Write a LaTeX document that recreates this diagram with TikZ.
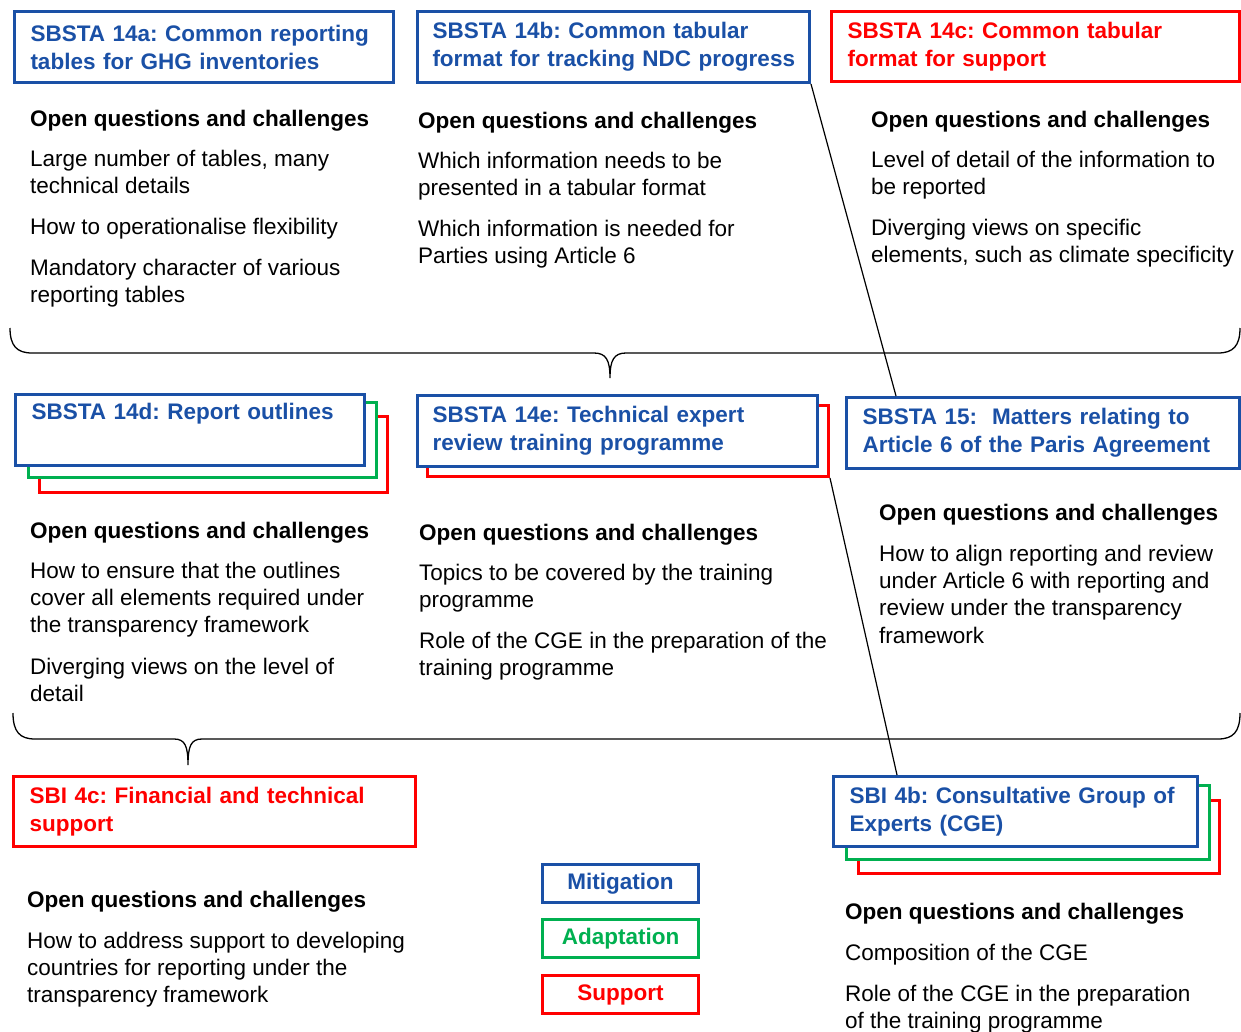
\documentclass[tikz,border=0pt]{standalone}
\usepackage{fontspec}
\setmainfont{Liberation Sans}
\AtBeginDocument{\frenchspacing}
\definecolor{ublue}{HTML}{1A50A6}
\definecolor{ured}{HTML}{FF0000}
\definecolor{ugreen}{HTML}{00B050}
\begin{document}
\begin{tikzpicture}[x=1pt,y=-1pt,
  ubox/.style={draw=#1, line width=3pt, fill=white, inner sep=0pt, anchor=north west},
  ttl/.style={ubox=#1, text=#1, font=\frenchspacing\bfseries\fontsize{22.5}{28}\selectfont, align=left, inner xsep=16pt, inner ysep=0pt},
  body/.style={anchor=north west, inner sep=0pt, align=left, font=\frenchspacing\fontsize{22.5}{27.3}\selectfont},
  head/.style={body, font=\frenchspacing\bfseries\fontsize{22.5}{27.3}\selectfont},
  legend/.style={ubox=#1, text=#1, font=\bfseries\fontsize{22.5}{27}\selectfont, minimum width=156pt, minimum height=38pt},
  brace/.style={draw=black, line width=1.3pt},
  link/.style={draw=black, line width=1.2pt}]
\useasboundingbox (0,0) rectangle (1241,1032);

% ---------- Row 1 ----------
\node[ttl=ublue, minimum width=379pt, minimum height=71pt, text width=347pt] (a14) at (13,10)
  {SBSTA 14a: Common reporting\\tables for GHG inventories};
\node[ttl=ublue, inner xsep=15pt, minimum width=392pt, minimum height=71pt, text width=362pt] (b14) at (416,10)
  {SBSTA 14b: Common tabular\\\mbox{format for tracking NDC progress}};
\node[ttl=ured, minimum width=408pt, minimum height=70pt, text width=376pt] (c14) at (830,10)
  {SBSTA 14c: Common tabular\\format for support};

\node[head] (a14h) at (30,107) {\strut Open questions and challenges};
\node[body] (a14p1) at (30,147) {\strut Large number of tables, many\\technical details};
\node[body] (a14p2) at (30,215) {\strut How to operationalise flexibility};
\node[body] (a14p3) at (30,256) {\strut Mandatory character of various\\reporting tables};

\node[head] (b14h) at (418,109) {\strut Open questions and challenges};
\node[body] (b14p1) at (418,149) {\strut Which information needs to be\\presented in a tabular format};
\node[body] (b14p2) at (418,217) {\strut Which information is needed for\\Parties using Article 6};

\node[head] (c14h) at (871,108) {\strut Open questions and challenges};
\node[body] (c14p1) at (871,148) {\strut Level of detail of the information to\\be reported};
\node[body] (c14p2) at (871,216) {\strut Diverging views on specific\\elements, such as climate specificity};

% brace 1
\draw[brace] (10,328) .. controls (10,346) and (17,353) .. (32,353) -- (594,353)
  .. controls (606,353) and (610,360) .. (610,378)
  .. controls (610,360) and (614,353) .. (626,353) -- (1218,353)
  .. controls (1233,353) and (1240,346) .. (1240,328);

% ---------- Row 2 ----------
\node[ubox=ured, minimum width=348pt, minimum height=76pt] (d14r) at (38,415) {};
\node[ubox=ugreen, minimum width=348pt, minimum height=75pt] (d14g) at (27,401) {};
\node[ttl=ublue, minimum width=349pt, minimum height=71pt, text width=317pt] (d14) at (14,393)
  {SBSTA 14d: Report outlines\\\strut};

\node[ubox=ured, minimum width=401pt, minimum height=71pt] (e14r) at (426,404) {};
\node[ttl=ublue, inner xsep=15pt, minimum width=400pt, minimum height=71pt, text width=370pt] (e14) at (416,394)
  {SBSTA 14e: Technical expert\\review training programme};

\node[ttl=ublue, minimum width=393pt, minimum height=71pt, text width=361pt] (s15) at (845,396)
  {SBSTA 15:~ Matters relating to\\Article 6 of the Paris Agreement};

\node[head] (d14h) at (30,519) {\strut Open questions and challenges};
\node[body] (d14p1) at (30,559) {\strut How to ensure that the outlines\\cover all elements required under\\the transparency framework};
\node[body] (d14p2) at (30,655) {\strut Diverging views on the level of\\detail};

\node[head] (e14h) at (419,521) {\strut Open questions and challenges};
\node[body] (e14p1) at (419,561) {\strut Topics to be covered by the training\\programme};
\node[body] (e14p2) at (419,629) {\strut Role of the CGE in the preparation of the\\training programme};

\node[head] (s15h) at (879,501) {\strut Open questions and challenges};
\node[body] (s15p1) at (879,542) {\strut How to align reporting and review\\under Article 6 with reporting and\\review under the transparency\\framework};

% brace 2
\draw[brace] (13,713) .. controls (13,732) and (20,739) .. (35,739) -- (174,739)
  .. controls (185,739) and (188,746) .. (188,765)
  .. controls (188,746) and (191,739) .. (202,739) -- (1218,739)
  .. controls (1233,739) and (1240,732) .. (1240,713);

% ---------- Row 3 ----------
\node[ttl=ured, minimum width=402pt, minimum height=70pt, text width=370pt] (c4) at (12,775)
  {SBI 4c: Financial and technical\\support};

\node[ubox=ured, minimum width=361pt, minimum height=73pt] (b4r) at (857,799) {};
\node[ubox=ugreen, minimum width=363pt, minimum height=74pt] (b4g) at (845,784) {};
\node[ttl=ublue, minimum width=364pt, minimum height=70pt, text width=332pt] (b4) at (832,775)
  {SBI 4b: Consultative Group of\\Experts (CGE)};

\node[head] (c4h) at (27,888) {\strut Open questions and challenges};
\node[body] (c4p1) at (27,929) {\strut How to address support to developing\\countries for reporting under the\\transparency framework};

\node[head] (b4h) at (845,900) {\strut Open questions and challenges};
\node[body] (b4p1) at (845,941) {\strut Composition of the CGE};
\node[body] (b4p2) at (845,982) {\strut Role of the CGE in the preparation\\of the training programme};

% legend
\node[legend=ublue] (lmit) at (541,863) {Mitigation};
\node[legend=ugreen] (lada) at (541,918) {Adaptation};
\node[legend=ured] (lsup) at (541,974) {Support};

% connectors
\draw[link] (b14.south east) -- ([xshift=51pt]s15.north west);
\draw[link] (e14r.south east) -- ([xshift=65pt]b4.north west);
\end{tikzpicture}
\end{document}
